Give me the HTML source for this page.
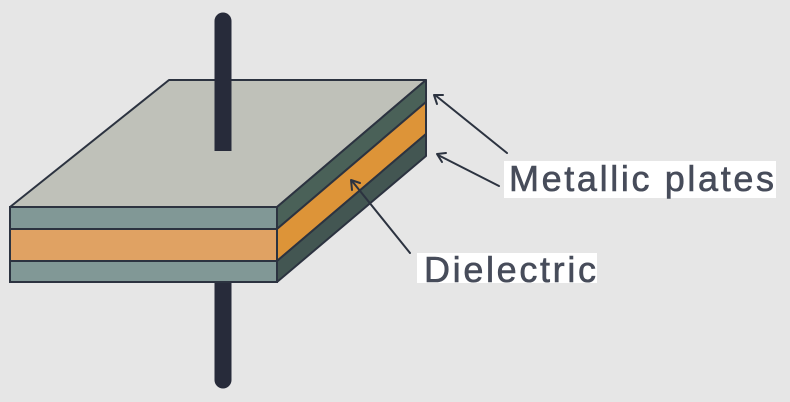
<!DOCTYPE html>
<html>
<head>
<meta charset="utf-8">
<style>
html,body{margin:0;padding:0;background:#e6e6e6;}
svg{display:block;}
</style>
</head>
<body>
<svg width="790" height="402" viewBox="0 0 790 402" xmlns="http://www.w3.org/2000/svg">
  <rect x="0" y="0" width="790" height="402" fill="#e6e6e6"/>
  <!-- lower lead -->
  <line x1="223" y1="280" x2="223" y2="380" stroke="#272b3a" stroke-width="17" stroke-linecap="round"/>
  <!-- top face -->
  <polygon points="169,80 426,80 277,207 10,207" fill="#bfc1b9" stroke="#2c3340" stroke-width="2" stroke-linejoin="round"/>
  <!-- front face layers -->
  <rect x="10" y="207" width="267" height="22" fill="#819896" stroke="#2c3340" stroke-width="2"/>
  <rect x="10" y="229" width="267" height="32" fill="#e0a263" stroke="#2c3340" stroke-width="2"/>
  <rect x="10" y="261" width="267" height="21" fill="#819896" stroke="#2c3340" stroke-width="2"/>
  <!-- right face layers -->
  <polygon points="277,207 426,80 426,102 277,229" fill="#4a6158" stroke="#2c3340" stroke-width="2" stroke-linejoin="round"/>
  <polygon points="277,229 426,102 426,134 277,261" fill="#dd9438" stroke="#2c3340" stroke-width="2" stroke-linejoin="round"/>
  <polygon points="277,261 426,134 426,156 277,282" fill="#435652" stroke="#2c3340" stroke-width="2" stroke-linejoin="round"/>
  <!-- upper lead -->
  <path d="M214.5,151 L214.5,21 A8.5,8.5 0 0 1 231.5,21 L231.5,151 Z" fill="#272b3a"/>
  <!-- arrows -->
  <g stroke="#2c3340" stroke-width="2" fill="none" stroke-linecap="round" stroke-linejoin="round">
    <line x1="507" y1="153" x2="435" y2="95"/>
    <polyline points="437,104 434,95 443,95"/>
    <line x1="499" y1="186" x2="438" y2="155"/>
    <polyline points="442,162 437,154 446,153"/>
    <line x1="410" y1="253" x2="352" y2="181"/>
    <polyline points="352,190 351,180 360,183"/>
  </g>
  <!-- labels -->
  <rect x="504" y="161" width="272" height="37" fill="#ffffff"/>
  <text x="509" y="191" font-family="Liberation Sans, sans-serif" font-size="36" fill="#474c5a" stroke="#474c5a" stroke-width="0.6" textLength="265" lengthAdjust="spacing">Metallic plates</text>
  <rect x="417" y="253" width="180" height="30" fill="#ffffff"/>
  <text x="424" y="282" font-family="Liberation Sans, sans-serif" font-size="36" fill="#474c5a" stroke="#474c5a" stroke-width="0.6" textLength="172" lengthAdjust="spacing">Dielectric</text>
</svg>
</body>
</html>
